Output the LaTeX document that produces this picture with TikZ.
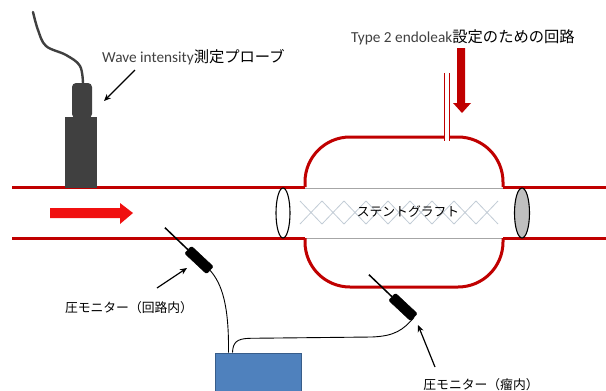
\documentclass[tikz,border=0pt]{standalone}
\usepackage{fontspec}
\setmainfont{Noto Sans CJK JP}
\newfontfamily\latinfont{Carlito}
\usetikzlibrary{arrows.meta,calc}
\definecolor{vessel}{HTML}{C00000}
\definecolor{flowred}{HTML}{F01010}
\definecolor{probegray}{HTML}{404040}
\definecolor{boxblue}{HTML}{4F81BD}
\definecolor{boxedge}{HTML}{385D8A}
\definecolor{stentgray}{HTML}{A6A6A6}
\definecolor{meshblue}{HTML}{C2CCD6}
\definecolor{capgray}{HTML}{BFBFBF}
\definecolor{latintext}{HTML}{404040}
\tikzset{
  wall/.style={draw=vessel,line width=3pt},
  graftline/.style={draw=stentgray,line width=1pt},
  mesh/.style={draw=meshblue,line width=0.8pt},
  endcap/.style={draw=black,line width=1.1pt},
  lbl/.style={font=\fontsize{12.8}{14}\selectfont,inner sep=0pt,text=black},
  biglbl/.style={font=\fontsize{15.3}{17}\selectfont,inner sep=0pt,text=black},
  pointer/.style={draw=black,line width=1.2pt,-{Stealth[length=7pt,width=6pt]}},
  sensor/.style={draw=black,fill=black,rotate=-43,minimum width=30pt,minimum height=10pt,inner sep=0pt,rounded corners=1.5pt},
  needle/.style={draw=black,line width=1.5pt},
  wire/.style={draw=black,line width=0.9pt},
  tubewall/.style={draw=vessel,line width=0.9pt},
}
\begin{document}
\begin{tikzpicture}[x=1pt,y=-1pt]
\clip (0,0) rectangle (606,391);
\fill[white] (0,0) rectangle (606,391);

% stent graft body
\draw[graftline] (283,188) -- (522,188);
\draw[graftline] (283,238) -- (522,238);
\foreach \i in {0,...,8}{
  \pgfmathsetmacro{\xa}{300+22*\i}
  \pgfmathsetmacro{\xb}{300+22*(\i+1)}
  \draw[mesh] (\xa,201) -- (\xb,224);
  \draw[mesh] (\xa,224) -- (\xb,201);
}
\node[lbl] (graft) at (408,212) {ステントグラフト};

% vessel walls with aneurysm sac
\draw[wall] (12,187) -- (305,187);
\draw[wall,rounded corners=45pt] (305,187) -- (305,137) -- (503,137) -- (503,187);
\draw[wall] (503,187) -- (606,187);
\draw[wall] (12,238) -- (305,238);
\draw[wall,rounded corners=45pt] (305,238) -- (305,287) -- (503,287) -- (503,238);
\draw[wall] (503,238) -- (606,238);

% graft ends
\draw[endcap,fill=white] (283,213) ellipse [x radius=7, y radius=25];
\draw[endcap,fill=capgray] (522,213) ellipse [x radius=7.5, y radius=25];

% type 2 endoleak circuit tube
\fill[white] (444,72) rectangle (449,141);
\draw[tubewall] (444,73) -- (444,141);
\draw[tubewall] (449,73) -- (449,141);
\fill[vessel] (457,48) -- (465,48) -- (465,103) -- (471,103) -- (462,113) -- (453,103) -- (457,103) -- cycle;
\node[biglbl,anchor=west] (leaklbl) at (351,37) {{\latinfont\color{latintext}Type 2 endoleak}設定のための回路};

% flow direction
\fill[flowred] (50,208) -- (120,208) -- (120,203) -- (133,213) -- (120,224) -- (120,218) -- (50,218) -- cycle;

% wave intensity probe
\draw[probegray,line width=2.4pt,line cap=round] plot[smooth,tension=0.6] coordinates {(83,84) (80,66) (66,55) (46,46) (38,30) (33,12)};
\fill[probegray,rounded corners=4pt] (72,118) -- (72,83) -- (92,83) -- (92,118) -- cycle;
\fill[probegray] (65,117) rectangle (97,188);
\node[biglbl,anchor=west] (probelbl) at (102,57) {{\latinfont\color{latintext}Wave intensity}測定プローブ};
\coordinate (probetip) at (104,101);
\coordinate (probetail) at (135,70);
\draw[pointer] (probetail) -- (probetip);

% pressure monitors
\node[sensor] (mon1) at (199,260) {};
\node[sensor] (mon2) at (403,307) {};
\draw[needle] (mon1.west) -- ++(-23,-22);
\draw[needle] (mon2.west) -- ++(-23,-22);

% monitor unit and cables
\node[draw=boxedge,fill=boxblue,line width=1pt,minimum width=86pt,minimum height=44pt,inner sep=0pt] (unit) at (258,375) {};
\coordinate (plug1) at ($(unit.north west)+(14,0)$);
\coordinate (plug2) at ($(unit.north west)+(18,0)$);
\draw[wire] (mon1.east) .. controls (222,284) and (229,305) .. (plug1);
\draw[wire] (plug2) .. controls (233,343) and (236,338.5) .. (250,338.3) -- (372,337) .. controls (395,336) and (403,330) .. (mon2.east);

\node[lbl] (mon1lbl) at (129,308) {圧モニター（回路内）};
\coordinate (m1tail) at (157,288);
\coordinate (m1tip) at (187,268);
\draw[pointer] (m1tail) -- (m1tip);

\node[lbl] (mon2lbl) at (481,385) {圧モニター（瘤内）};
\coordinate (m2tail) at (435,367);
\coordinate (m2tip) at (418,325);
\draw[pointer] (m2tail) -- (m2tip);
\end{tikzpicture}
\end{document}
